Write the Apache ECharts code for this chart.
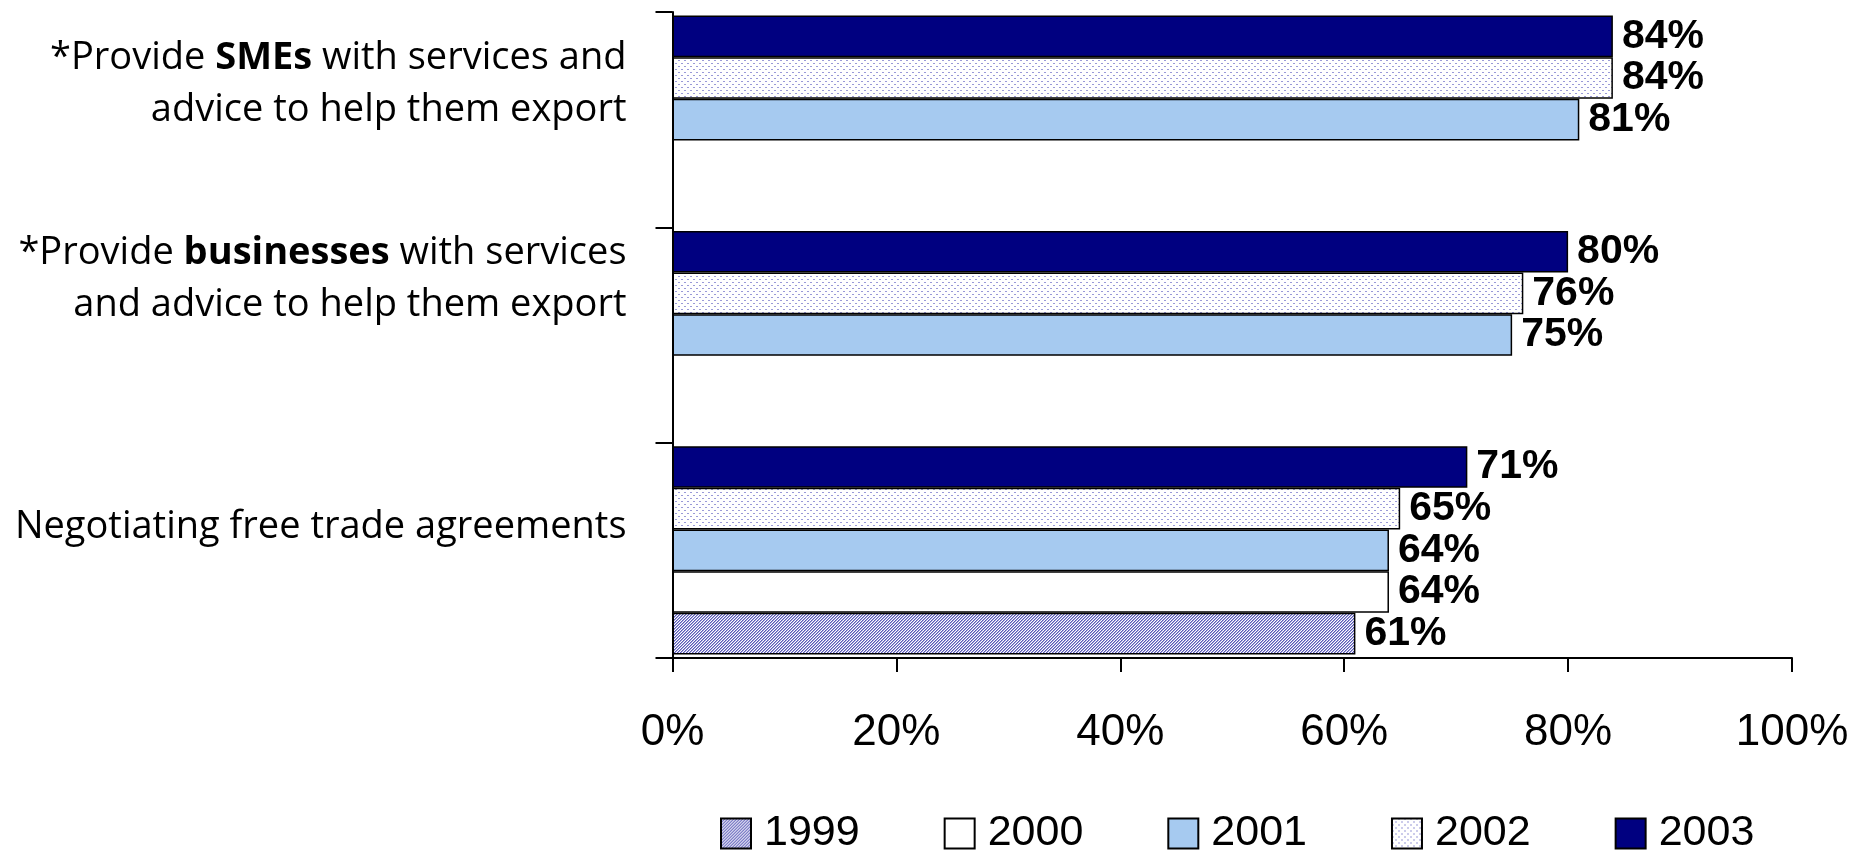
<!DOCTYPE html>
<html><head><meta charset="utf-8">
<script src="https://cdn.jsdelivr.net/npm/echarts@6/dist/echarts.min.js"></script>
<style>html,body{margin:0;padding:0;background:#fff}#c{width:1873px;height:851px}</style>
</head><body><div id="c"></div>
<script>
// ---- data ----
const categories = [
  '*Provide SMEs with services and\nadvice to help them export',
  '*Provide businesses with services\nand advice to help them export',
  'Negotiating free trade agreements'
];
const boldWords = ['SMEs', 'businesses'];
const years = ['1999', '2000', '2001', '2002', '2003'];
const v1999 = [null, null, 61];
const v2000 = [null, null, 64];
const v2001 = [81, 75, 64];
const v2002 = [84, 76, 65];
const v2003 = [84, 80, 71];
const xTicks = [0, 20, 40, 60, 80, 100];

// ---- styling helpers ----
function hatchPattern() {
  const c = document.createElement('canvas'); c.width = 3; c.height = 3;
  const g = c.getContext('2d');
  g.fillStyle = '#ffffff'; g.fillRect(0, 0, 3, 3);
  for (let x = 0; x < 3; x++) for (let y = 0; y < 3; y++) {
    const k = (x + y) % 3;
    if (k === 0) { g.fillStyle = '#5a5ab8'; g.fillRect(x, y, 1, 1); }
    else if (k === 1) { g.fillStyle = '#a4a4da'; g.fillRect(x, y, 1, 1); }
  }
  return { image: c, repeat: 'repeat' };
}
function dotPattern() {
  const c = document.createElement('canvas'); c.width = 6; c.height = 6;
  const g = c.getContext('2d');
  g.fillStyle = '#ffffff'; g.fillRect(0, 0, 6, 6);
  g.fillStyle = '#9a9ad8';
  g.fillRect(0, 0, 2, 1);
  g.fillRect(3, 3, 2, 1);
  return { image: c, repeat: 'repeat' };
}
const fills = {
  '1999': hatchPattern(),
  '2000': '#ffffff',
  '2001': '#a6caf0',
  '2002': dotPattern(),
  '2003': '#000080'
};
const valuesByYear = { '1999': v1999, '2000': v2000, '2001': v2001, '2002': v2002, '2003': v2003 };
// vertical label shift (px, upward) per category, top to bottom
const labelShift = [35, 56, 23];

const yData = categories.map((c, i) => ({
  value: c,
  textStyle: { padding: [0, 0, 2 * labelShift[i], 0] }
}));

function fmtCat(v) {
  let s = v;
  boldWords.forEach(w => { s = s.replace(w, '{b|' + w + '}'); });
  return s;
}

const seriesOrder = years.slice().reverse(); // top-to-bottom within group
const series = seriesOrder.map(y => ({
  name: y,
  type: 'bar',
  data: valuesByYear[y],
  barGap: '0%',
  barCategoryGap: '3.3%',
  itemStyle: { color: fills[y], borderColor: '#000', borderWidth: 1.5 },
  label: {
    show: true, position: 'right', distance: 9,
    formatter: p => (p.value == null ? '' : p.value + '%'),
    fontFamily: 'Liberation Sans', fontWeight: 'bold', fontSize: 41, color: '#000'
  }
}));

const chart = echarts.init(document.getElementById('c'), null, { renderer: 'canvas' });
chart.setOption({
  animation: false,
  backgroundColor: '#ffffff',
  grid: { left: 672.5, right: 81, top: 12, bottom: 193, containLabel: false },
  legend: {
    data: years,
    left: 720, top: 812, padding: 0,
    icon: 'rect', itemWidth: 30, itemHeight: 30, itemGap: 84,
    textStyle: { fontFamily: 'Liberation Sans', fontSize: 43, color: '#000', padding: [0, 0, 0, 8] }
  },
  xAxis: {
    type: 'value',
    min: xTicks[0], max: xTicks[xTicks.length - 1], interval: xTicks[1] - xTicks[0],
    axisLine: { show: true, lineStyle: { color: '#000', width: 2 } },
    axisTick: { show: true, length: 14, lineStyle: { color: '#000', width: 2 } },
    splitLine: { show: false },
    axisLabel: {
      formatter: '{value}%', fontFamily: 'Liberation Sans', fontSize: 44, color: '#000', margin: 53
    }
  },
  yAxis: {
    type: 'category',
    inverse: true,
    data: yData,
    axisLine: { show: true, lineStyle: { color: '#000', width: 2 } },
    axisTick: { show: true, length: 17, lineStyle: { color: '#000', width: 2 } },
    axisLabel: {
      formatter: fmtCat,
      fontFamily: 'Open Sans', fontSize: 38, lineHeight: 52, color: '#000', margin: 46,
      align: 'right',
      rich: { b: { fontFamily: 'Open Sans', fontWeight: 'bold', fontSize: 38, lineHeight: 52, color: '#000' } }
    }
  },
  series: series
});
</script></body></html>
